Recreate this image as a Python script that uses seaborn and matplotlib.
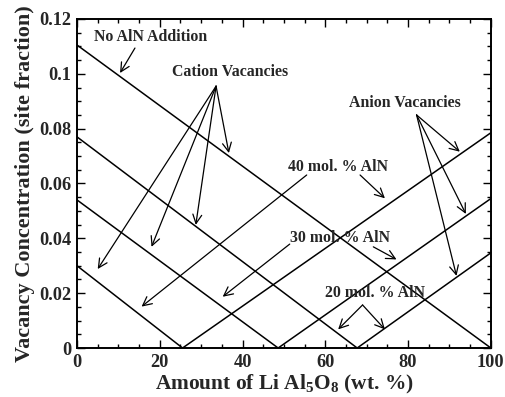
import numpy as np
import pandas as pd
import matplotlib
matplotlib.use("Agg")
import matplotlib.pyplot as plt
from matplotlib.ticker import MultipleLocator, FixedLocator
import seaborn as sns

# Cation vacancy lines: start value at x=0, reach zero at x_zero
cation_start = [0.1105, 0.077, 0.054, 0.030]
cation_zero = [100.0, 67.7, 48.6, 25.5]
# Anion vacancy lines: start at zero (x_zero), value at x=100
anion_zero = [25.5, 48.6, 67.7]
anion_end = [0.0785, 0.0545, 0.0347]

x_ticks = [0, 20, 40, 60, 80, 100]
y_ticks = [0, 0.02, 0.04, 0.06, 0.08, 0.1, 0.12]
y_tick_labels = ["0", "0.02", "0.04", "0.06", "0.08", "0.1", "0.12"]

rows = []
for i, (y0, xz) in enumerate(zip(cation_start, cation_zero)):
    rows.append(dict(x=0.0, y=y0, line=f"c{i}"))
    rows.append(dict(x=xz, y=0.0, line=f"c{i}"))
for i, (xz, y1) in enumerate(zip(anion_zero, anion_end)):
    rows.append(dict(x=xz, y=0.0, line=f"a{i}"))
    rows.append(dict(x=100.0, y=y1, line=f"a{i}"))
df = pd.DataFrame(rows)

sns.set_style("white")
plt.rcParams['font.family'] = ['Liberation Serif', 'DejaVu Serif']
plt.rcParams['font.weight'] = 'bold'
plt.rcParams['mathtext.fontset'] = 'custom'
plt.rcParams['mathtext.rm'] = 'Liberation Serif:bold'
plt.rcParams['mathtext.bf'] = 'Liberation Serif:bold'

fig = plt.figure(figsize=(5.05, 3.97), dpi=100)
ax = fig.add_axes([0.1525, 0.1234, 0.8195, 0.8288])

sns.lineplot(data=df, x="x", y="y", units="line", estimator=None,
             color="black", lw=1.1, ax=ax, legend=False)

ax.set_xlim(0, 100)
ax.set_ylim(0, 0.12)
ax.xaxis.set_major_locator(FixedLocator(x_ticks))
ax.xaxis.set_minor_locator(MultipleLocator(5))
ax.yaxis.set_major_locator(FixedLocator(y_ticks))
ax.yaxis.set_minor_locator(MultipleLocator(0.005))
ax.set_yticklabels(y_tick_labels)
ax.set_xticklabels([str(t) for t in x_ticks])
ax.tick_params(which='both', direction='in', top=True, right=True,
               bottom=True, left=True, width=1.0, labelsize=13.2, color='black')
ax.tick_params(which='major', length=6, pad=4)
ax.tick_params(which='minor', length=3)
for s in ax.spines.values():
    s.set_linewidth(1.4)
    s.set_color('black')

ax.set_xlabel(r"Amount of Li Al$_5$O$_8$ (wt. %)", fontsize=15.4, fontweight='bold', labelpad=2)
ax.set_ylabel("Vacancy Concentration (site fraction)", fontsize=16, fontweight='bold', labelpad=3)

fs = 11.4
ap = dict(arrowstyle='->', color='black', lw=0.9, mutation_scale=16,
          shrinkA=0, shrinkB=0)

def txt(x, y, s):
    ax.text(x, y, s, ha='center', va='center', fontsize=fs, fontweight='bold')

def arrow(x0, y0, x1, y1):
    ax.annotate('', xy=(x1, y1), xytext=(x0, y0), arrowprops=ap)

txt(17.75, 0.1134, "No AlN Addition")
arrow(14.0, 0.1094, 10.4, 0.1003)

txt(36.96, 0.1007, "Cation Vacancies")
for tx, ty in [(36.7, 0.0711), (5.0, 0.0288), (18.0, 0.0369), (28.7, 0.0449)]:
    arrow(33.6, 0.0955, tx, ty)

txt(79.3, 0.0894, "Anion Vacancies")
for tx, ty in [(92.5, 0.0716), (93.96, 0.0489), (91.7, 0.0263)]:
    arrow(82.05, 0.0850, tx, ty)

txt(63.0, 0.0661, "40 mol. % AlN")
arrow(55.5, 0.0631, 15.6, 0.0151)
arrow(68.4, 0.0631, 74.4, 0.0546)

txt(63.6, 0.0401, "30 mol. % AlN")
arrow(51.4, 0.0379, 35.2, 0.0187)
arrow(71.6, 0.0369, 77.2, 0.0323)

txt(72.1, 0.0202, "20 mol. % AlN")
arrow(69.0, 0.0157, 63.1, 0.0068)
arrow(69.0, 0.0157, 74.4, 0.0068)

fig.savefig("out.png", dpi=100)
